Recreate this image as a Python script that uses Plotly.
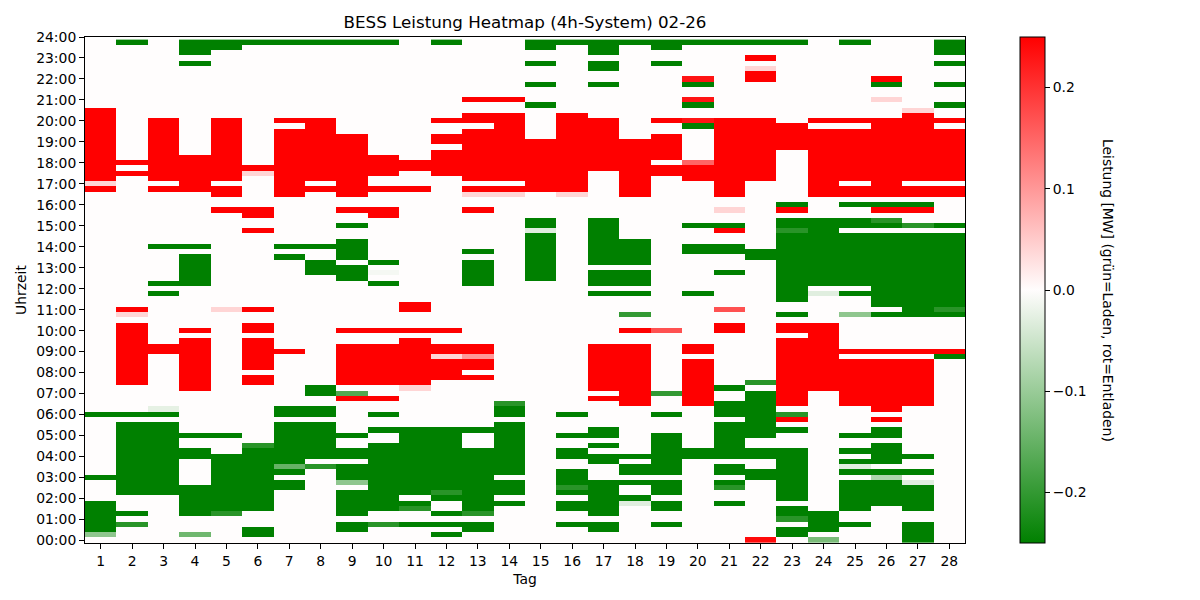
import plotly.graph_objects as go

# Tage im Monat (x) und Uhrzeit-Beschriftung (y)
tage = list(range(1, 29))
uhrzeit_labels = [f"{h:02d}:00" for h in range(25)]

# Leistung je Tag als Abschnitte: (erstes 15-min-Intervall, letztes 15-min-Intervall, MW)
# alles was nicht drin steht = 0
tag01 = [("00:15", "00:15", -0.11), ("00:30", "01:45", -0.25), ("03:00", "03:00", -0.25),
         ("06:00", "06:00", -0.25), ("16:45", "16:45", 0.25), ("17:00", "17:00", 0.04),
         ("17:15", "20:30", 0.25)]
tag02 = [("00:45", "00:45", -0.21), ("01:15", "01:15", -0.25), ("02:15", "05:30", -0.25),
         ("06:00", "06:00", -0.25), ("07:30", "10:15", 0.25), ("10:45", "10:45", 0.04),
         ("11:00", "11:00", 0.25), ("17:30", "17:30", 0.25), ("18:00", "18:00", 0.25),
         ("23:45", "23:45", -0.25)]
tag03 = [("02:15", "05:30", -0.25), ("06:00", "06:00", -0.25), ("06:15", "06:15", -0.025),
         ("09:00", "09:15", 0.25), ("11:45", "11:45", -0.25), ("12:15", "12:15", -0.25),
         ("14:00", "14:00", -0.25), ("16:45", "16:45", 0.25), ("17:15", "20:00", 0.25)]
tag04 = [("00:15", "00:15", -0.14), ("01:15", "02:30", -0.25), ("04:00", "04:15", -0.25),
         ("05:00", "05:00", -0.25), ("07:15", "09:30", 0.25), ("10:00", "10:00", 0.25),
         ("12:15", "13:30", -0.25), ("14:00", "14:00", -0.25), ("16:45", "18:15", 0.25),
         ("22:45", "22:45", -0.25), ("23:15", "23:45", -0.25)]
tag05 = [("01:15", "01:15", -0.21), ("01:30", "04:00", -0.25), ("05:00", "05:00", -0.25),
         ("11:00", "11:00", 0.04), ("15:45", "15:45", 0.25), ("16:30", "16:45", 0.25),
         ("17:15", "20:00", 0.25), ("23:30", "23:45", -0.25)]
tag06 = [("00:15", "00:30", -0.25), ("01:30", "04:15", -0.25), ("04:30", "04:30", -0.21),
         ("07:30", "07:45", 0.25), ("08:15", "09:30", 0.25), ("10:00", "10:15", 0.25),
         ("11:00", "11:00", 0.25), ("14:45", "14:45", 0.25), ("15:30", "15:45", 0.25),
         ("17:30", "17:30", 0.04), ("17:45", "17:45", 0.25), ("23:45", "23:45", -0.25)]
tag07 = [("02:30", "02:45", -0.25), ("03:15", "03:15", -0.25), ("03:30", "03:30", -0.15),
         ("03:45", "05:30", -0.25), ("06:00", "06:15", -0.25), ("09:00", "09:00", 0.25),
         ("13:30", "13:30", -0.25), ("14:00", "14:00", -0.25), ("16:30", "19:30", 0.25),
         ("20:00", "20:00", 0.25), ("23:45", "23:45", -0.25)]
tag08 = [("03:30", "03:30", -0.21), ("04:00", "05:30", -0.25), ("06:00", "06:15", -0.25),
         ("07:00", "07:15", -0.25), ("12:45", "13:15", -0.25), ("14:00", "14:00", -0.25),
         ("16:45", "16:45", 0.25), ("17:15", "20:00", 0.25), ("23:45", "23:45", -0.25)]
tag09 = [("00:30", "00:45", -0.25), ("01:15", "02:15", -0.25), ("02:45", "02:45", -0.11),
         ("03:00", "03:30", -0.25), ("04:00", "04:15", -0.25), ("05:00", "05:00", -0.25),
         ("06:45", "06:45", 0.25), ("07:00", "07:00", -0.17), ("07:30", "09:15", 0.25),
         ("10:00", "10:00", 0.25), ("12:30", "13:00", -0.25), ("13:30", "14:15", -0.25),
         ("15:00", "15:00", -0.25), ("15:45", "15:45", 0.25), ("16:30", "19:15", 0.25),
         ("23:45", "23:45", -0.25)]
tag10 = [("00:45", "00:45", -0.21), ("01:30", "04:30", -0.25), ("05:15", "05:15", -0.25),
         ("06:00", "06:00", -0.25), ("06:45", "06:45", 0.25), ("07:30", "09:15", 0.25),
         ("10:00", "10:00", 0.25), ("12:15", "12:15", -0.25), ("12:45", "12:45", -0.01),
         ("13:15", "13:15", -0.25), ("15:30", "15:45", 0.25), ("16:45", "16:45", 0.25),
         ("17:30", "18:15", 0.25), ("23:45", "23:45", -0.25)]
tag11 = [("00:45", "00:45", -0.25), ("01:30", "01:30", -0.21), ("01:45", "01:45", -0.25),
         ("02:15", "05:15", -0.25), ("07:15", "07:15", 0.04), ("07:30", "09:30", 0.25),
         ("10:00", "10:00", 0.25), ("11:00", "11:15", 0.25), ("16:45", "16:45", 0.25),
         ("17:45", "18:00", 0.25)]
tag12 = [("00:15", "00:15", -0.25), ("00:45", "00:45", -0.25), ("01:15", "01:15", -0.25),
         ("02:00", "02:00", -0.25), ("02:15", "02:15", -0.21), ("02:30", "05:15", -0.25),
         ("07:45", "08:30", 0.25), ("08:45", "08:45", 0.04), ("09:00", "09:15", 0.25),
         ("10:00", "10:00", 0.25), ("17:30", "18:30", 0.25), ("19:00", "19:15", 0.25),
         ("20:00", "20:00", 0.25), ("23:45", "23:45", -0.25)]
tag13 = [("00:30", "00:45", -0.25), ("01:15", "01:15", -0.21), ("01:30", "04:15", -0.25),
         ("05:15", "05:15", -0.25), ("07:45", "07:45", 0.25), ("08:15", "08:30", 0.25),
         ("08:45", "08:45", 0.1), ("09:00", "09:15", 0.25), ("12:15", "13:15", -0.25),
         ("13:45", "13:45", -0.25), ("15:45", "15:45", 0.25), ("16:30", "16:30", 0.04),
         ("16:45", "16:45", 0.25), ("17:15", "19:30", 0.25), ("20:00", "20:15", 0.25),
         ("21:00", "21:00", 0.25)]
tag14 = [("01:45", "01:45", -0.25), ("02:15", "02:45", -0.25), ("03:15", "05:30", -0.25),
         ("06:00", "06:15", -0.25), ("06:30", "06:30", -0.21), ("16:30", "16:30", 0.04),
         ("16:45", "16:45", 0.25), ("17:15", "20:15", 0.25), ("21:00", "21:00", 0.25)]
tag15 = [("12:30", "14:30", -0.25), ("14:45", "14:45", -0.03), ("15:00", "15:15", -0.25),
         ("16:45", "19:00", 0.25), ("20:45", "20:45", -0.25), ("21:45", "21:45", -0.25),
         ("22:45", "22:45", -0.25), ("23:30", "23:45", -0.25)]
tag16 = [("00:45", "00:45", -0.25), ("01:30", "01:45", -0.25), ("02:15", "02:15", -0.25),
         ("02:30", "02:30", -0.21), ("02:45", "03:15", -0.25), ("04:00", "04:15", -0.25),
         ("05:00", "05:00", -0.25), ("06:00", "06:00", -0.25), ("16:30", "16:30", 0.04),
         ("16:45", "20:15", 0.25), ("23:45", "23:45", -0.25)]
tag17 = [("00:30", "00:45", -0.25), ("01:15", "02:45", -0.25), ("03:45", "04:00", -0.25),
         ("04:30", "04:30", -0.25), ("05:00", "05:15", -0.25), ("06:45", "06:45", 0.25),
         ("07:15", "09:15", 0.25), ("11:45", "11:45", -0.25), ("12:15", "12:45", -0.25),
         ("13:15", "15:15", -0.25), ("17:45", "20:00", 0.25), ("21:45", "21:45", -0.25),
         ("22:30", "22:45", -0.25), ("23:15", "23:45", -0.25)]
tag18 = [("01:45", "01:45", -0.03), ("02:00", "02:00", -0.25), ("02:45", "02:45", -0.25),
         ("03:15", "03:30", -0.25), ("04:00", "04:00", -0.25), ("06:30", "09:15", 0.25),
         ("10:00", "10:00", 0.25), ("10:45", "10:45", -0.2), ("11:45", "11:45", -0.25),
         ("12:15", "12:45", -0.25), ("13:15", "14:15", -0.25), ("16:30", "19:00", 0.25),
         ("23:45", "23:45", -0.25)]
tag19 = [("00:45", "00:45", -0.25), ("01:30", "01:45", -0.25), ("02:15", "02:45", -0.25),
         ("03:15", "05:00", -0.25), ("06:00", "06:00", -0.25), ("07:00", "07:00", -0.2),
         ("10:00", "10:00", 0.17), ("17:30", "17:45", 0.25), ("18:15", "19:15", 0.25),
         ("20:00", "20:00", 0.25), ("22:45", "22:45", -0.25), ("23:30", "23:45", -0.25)]
tag20 = [("04:00", "04:15", -0.25), ("06:30", "08:30", 0.25), ("09:00", "09:15", 0.25),
         ("11:45", "11:45", -0.25), ("13:45", "14:00", -0.25), ("15:00", "15:00", -0.25),
         ("17:15", "17:45", 0.25), ("18:00", "18:00", 0.15), ("19:45", "19:45", -0.25),
         ("20:00", "20:00", 0.23), ("20:45", "20:45", -0.25), ("21:00", "21:00", 0.23),
         ("21:45", "21:45", -0.25), ("22:00", "22:00", 0.23), ("23:45", "23:45", -0.25)]
tag21 = [("01:45", "01:45", -0.25), ("02:30", "02:30", -0.21), ("02:45", "02:45", -0.25),
         ("03:15", "03:30", -0.25), ("04:00", "05:30", -0.25), ("06:00", "06:30", -0.25),
         ("07:15", "07:15", -0.25), ("10:00", "10:15", 0.25), ("11:00", "11:00", 0.17),
         ("12:45", "12:45", -0.25), ("13:45", "14:00", -0.25), ("14:45", "14:45", 0.25),
         ("15:00", "15:00", -0.25), ("15:45", "15:45", 0.04), ("16:30", "20:00", 0.25),
         ("23:45", "23:45", -0.25)]
tag22 = [("00:00", "00:00", 0.24), ("03:00", "03:15", -0.25), ("04:00", "04:15", -0.25),
         ("05:00", "07:00", -0.25), ("07:30", "07:30", -0.21), ("13:30", "13:45", -0.25),
         ("17:15", "20:00", 0.25), ("22:00", "22:15", 0.25), ("22:30", "22:30", 0.04),
         ("23:00", "23:00", 0.25), ("23:45", "23:45", -0.25)]
tag23 = [("00:15", "00:30", -0.25), ("01:00", "01:00", -0.21), ("01:15", "01:30", -0.25),
         ("02:00", "04:15", -0.25), ("05:15", "05:15", -0.25), ("05:45", "05:45", 0.25),
         ("06:00", "06:00", -0.21), ("06:30", "09:30", 0.25), ("10:00", "10:15", 0.25),
         ("10:45", "10:45", -0.25), ("11:30", "14:30", -0.25), ("14:45", "14:45", -0.21),
         ("15:00", "15:15", -0.25), ("15:45", "15:45", 0.25), ("16:00", "16:00", -0.25),
         ("18:45", "19:45", 0.25), ("23:45", "23:45", -0.25)]
tag24 = [("00:00", "00:00", -0.13), ("00:30", "01:15", -0.25), ("07:15", "10:15", 0.25),
         ("11:45", "11:45", -0.03), ("12:15", "15:15", -0.25), ("16:30", "19:30", 0.25),
         ("20:00", "20:00", 0.25)]
tag25 = [("00:45", "00:45", -0.25), ("01:30", "02:45", -0.25), ("03:15", "03:15", -0.25),
         ("03:30", "03:30", -0.03), ("03:45", "03:45", -0.25), ("04:15", "04:15", -0.25),
         ("05:00", "05:00", -0.25), ("06:30", "08:30", 0.25), ("09:00", "09:00", 0.25),
         ("10:45", "10:45", -0.11), ("11:45", "11:45", -0.25), ("12:15", "14:30", -0.25),
         ("15:00", "15:15", -0.25), ("16:00", "16:00", -0.25), ("16:30", "16:45", 0.25),
         ("17:15", "19:30", 0.25), ("20:00", "20:00", 0.25), ("23:45", "23:45", -0.25)]
tag26 = [("01:45", "02:45", -0.25), ("03:00", "03:00", -0.08), ("03:15", "03:15", -0.25),
         ("03:45", "04:30", -0.25), ("05:00", "05:15", -0.25), ("05:45", "05:45", 0.25),
         ("06:15", "08:30", 0.25), ("09:00", "09:00", 0.25), ("10:45", "10:45", -0.25),
         ("11:15", "14:30", -0.25), ("15:00", "15:00", -0.25), ("15:15", "15:15", -0.21),
         ("15:45", "15:45", 0.25), ("16:00", "16:00", -0.25), ("16:30", "20:00", 0.25),
         ("21:00", "21:00", 0.04), ("21:45", "21:45", -0.25), ("22:00", "22:00", 0.25)]
tag27 = [("00:00", "00:45", -0.25), ("01:30", "02:30", -0.25), ("02:45", "02:45", -0.03),
         ("03:15", "03:15", -0.25), ("04:00", "04:00", -0.25), ("06:30", "08:30", 0.25),
         ("09:00", "09:00", 0.25), ("10:45", "14:30", -0.25), ("15:00", "15:00", -0.21),
         ("15:45", "15:45", 0.25), ("16:00", "16:00", -0.25), ("16:30", "16:45", 0.25),
         ("17:15", "20:15", 0.25), ("20:30", "20:30", 0.04)]
tag28 = [("08:45", "08:45", -0.25), ("09:00", "09:00", 0.25), ("10:45", "10:45", -0.25),
         ("11:00", "11:00", -0.21), ("11:15", "14:30", -0.25), ("15:00", "15:00", -0.25),
         ("16:30", "16:45", 0.25), ("17:15", "19:30", 0.25), ("20:00", "20:00", 0.25),
         ("20:45", "20:45", -0.25), ("21:45", "21:45", -0.25), ("22:45", "22:45", -0.25),
         ("23:15", "23:45", -0.25)]

alle_tage = [tag01, tag02, tag03, tag04, tag05, tag06, tag07, tag08, tag09, tag10,
             tag11, tag12, tag13, tag14, tag15, tag16, tag17, tag18, tag19, tag20,
             tag21, tag22, tag23, tag24, tag25, tag26, tag27, tag28]


def slot(t):
    h, m = t.split(":")
    return int(h) * 4 + int(m) // 15


# 96 x 28 Matrix aufbauen (Zeilen = Viertelstunden)
z = [[0.0] * len(tage) for _ in range(96)]
for d, abschnitte in enumerate(alle_tage):
    for von, bis, wert in abschnitte:
        for k in range(slot(von), slot(bis) + 1):
            z[k][d] = wert

stunden = [k / 4 for k in range(96)]

# Seite hat 8px Rand -> Figur etwas kleiner, damit alles passt
W, H = 1192, 592

fig = go.Figure(go.Heatmap(
    x=tage, y=stunden, z=z,
    zmin=-0.25, zmax=0.25,
    colorscale=[[0, "rgb(0,128,0)"], [0.5, "rgb(255,253,253)"], [1, "rgb(255,0,0)"]],
    colorbar=dict(x=1.0625, xanchor="left", y=0.5, yanchor="middle", len=1,
                  thickness=25, xpad=0, ypad=0, outlinewidth=1, outlinecolor="black",
                  ticks="outside", ticklen=5, tickcolor="black",
                  tickvals=[-0.2, -0.1, 0.0, 0.1, 0.2], tickformat=".1f",
                  tickfont=dict(size=13.9, color="black")),
))

fig.update_layout(
    width=W, height=H,
    margin=dict(l=77, r=W - 77 - 880, t=29, b=H - 29 - 506),
    paper_bgcolor="white", plot_bgcolor="white",
    font=dict(family="DejaVu Sans", size=13.9, color="black"),
    title=dict(text="BESS Leistung Heatmap (4h-System) 02-26", x=0.5, xref="paper",
               y=1 - 14 / H, yref="container", yanchor="middle",
               font=dict(size=16.7, color="black")),
)
fig.update_xaxes(range=[0.5, 28.5], tickvals=tage, ticks="outside", ticklen=5,
                 tickcolor="black", showline=True, linecolor="black", linewidth=1,
                 mirror=True, showgrid=False, zeroline=False,
                 title=dict(text="Tag", standoff=6, font=dict(size=13.9)),
                 automargin=False)
fig.update_yaxes(range=[-0.125, 24], tickvals=list(range(25)), ticktext=uhrzeit_labels,
                 ticks="outside", ticklen=5, tickcolor="black", showline=True,
                 linecolor="black", linewidth=1, mirror=True, showgrid=False,
                 zeroline=False, title=dict(text="Uhrzeit", standoff=6, font=dict(size=13.9)),
                 automargin=False)

fig.add_annotation(text="Leistung [MW] (grün=Laden, rot=Entladen)", textangle=90,
                   xref="paper", yref="paper", x=(1108 - 85) / 880, y=0.5,
                   xanchor="center", yanchor="middle", showarrow=False,
                   font=dict(size=13.9, color="black"))

fig.write_html("out.html")
